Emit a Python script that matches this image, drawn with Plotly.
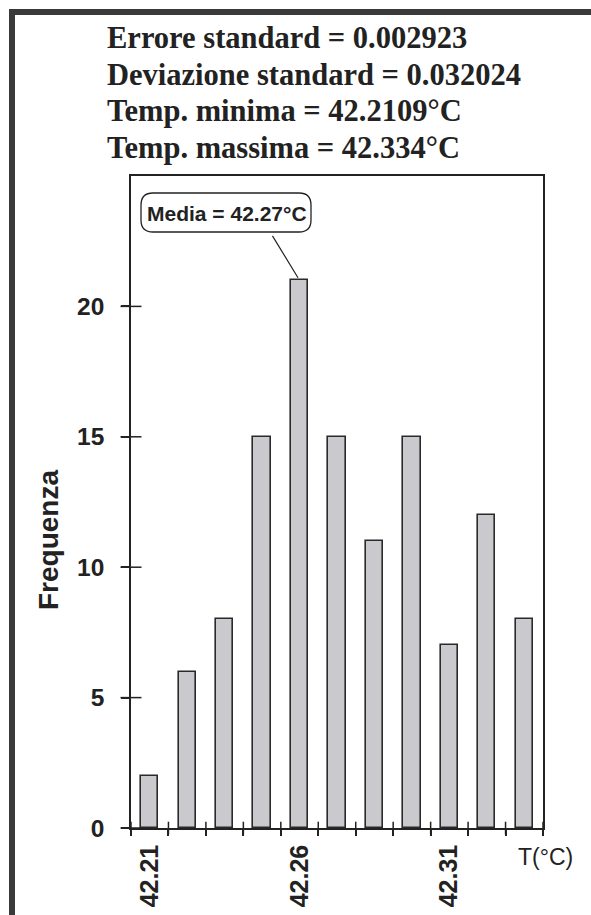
import plotly.graph_objects as go

# Histogram of measured temperatures
bin_centers = [42.21, 42.2225, 42.235, 42.2475, 42.26, 42.2725,
               42.285, 42.2975, 42.31, 42.3225, 42.335]
frequencies = [2, 6, 8, 15, 21, 15, 11, 15, 7, 12, 8]
bin_width = 0.0125

x_tick_values = [42.21, 42.26, 42.31]
x_tick_labels = ["42.21", "42.26", "42.31"]
y_tick_values = [0, 5, 10, 15, 20]

stats_lines = [
    "Errore standard = 0.002923",
    "Deviazione standard = 0.032024",
    "Temp. minima = 42.2109°C",
    "Temp. massima = 42.334°C",
]
media_label = "Media = 42.27°C"
x_title = "T(°C)"
y_title = "Frequenza"

# bin edges (tick marks on the x axis)
bin_edges = [c - bin_width / 2 for c in bin_centers] + [bin_centers[-1] + bin_width / 2]
peak = max(frequencies)
peak_x = bin_centers[frequencies.index(peak)]

W, H = 591, 915
L, R, T, B = 131, 48, 176, 87
PW, PH = W - L - R, H - T - B


def px(xp):
    return (xp - L) / PW


def py(yp):
    return (H - B - yp) / PH


INK = "#222222"
SANS = "Arial, Liberation Sans, sans-serif"
SERIF = "Times New Roman, Liberation Serif, serif"

fig = go.Figure()
fig.add_trace(go.Bar(
    x=bin_centers, y=frequencies, width=bin_width * 0.46,
    marker=dict(color="#c9c9ce", line=dict(color="#2a2a2a", width=1.6)),
    hoverinfo="x+y", showlegend=False,
))
# inner halves of the crossing tick marks
fig.add_trace(go.Scatter(
    x=bin_edges, y=[0] * len(bin_edges), mode="markers", cliponaxis=False,
    marker=dict(symbol="line-ns", size=9, line=dict(color=INK, width=1.5)),
    hoverinfo="skip", showlegend=False,
))
fig.add_trace(go.Scatter(
    x=[bin_edges[0]] * len(y_tick_values), y=y_tick_values, mode="markers",
    cliponaxis=False,
    marker=dict(symbol="line-ew", size=15, line=dict(color=INK, width=1.5)),
    hoverinfo="skip", showlegend=False,
))

fig.update_layout(
    width=W, height=H,
    margin=dict(l=L, r=R, t=T, b=B, pad=0, autoexpand=False),
    paper_bgcolor="white", plot_bgcolor="white",
    bargap=0,
    xaxis=dict(
        range=[bin_edges[0], bin_edges[-1]], showgrid=False, zeroline=False,
        automargin=False,
        showline=True, linecolor=INK, linewidth=1.5, mirror=True,
        tickmode="array", tickvals=x_tick_values, ticktext=x_tick_labels,
        tickangle=-90, ticks="outside", ticklen=5, tickcolor="rgba(0,0,0,0)",
        ticklabelstandoff=0,
        tickfont=dict(family=SANS, size=25, color=INK, weight="bold"),
        minor=dict(tickmode="array", tickvals=bin_edges, ticks="outside",
                   ticklen=6, tickwidth=1.5, tickcolor=INK, showgrid=False),
    ),
    yaxis=dict(
        range=[0, 25], showgrid=False, zeroline=False, automargin=False,
        showline=True, linecolor=INK, linewidth=1.5, mirror=True,
        tickmode="array", tickvals=y_tick_values,
        ticks="outside", ticklen=8, tickwidth=1.5, tickcolor=INK,
        ticklabelstandoff=12,
        tickfont=dict(family=SANS, size=24.5, color=INK, weight="bold"),
    ),
)

annotations = []
for i, line in enumerate(stats_lines):
    annotations.append(dict(
        text=line, xref="paper", yref="paper", x=px(105), y=py(38 + 36.7 * i),
        xanchor="left", yanchor="middle", showarrow=False,
        font=dict(family=SERIF, size=30.5, color=INK, weight="bold"),
    ))
annotations += [
    dict(text=y_title, xref="paper", yref="paper", x=px(48), y=py(540),
         textangle=-90, showarrow=False, xanchor="center", yanchor="middle",
         font=dict(family=SANS, size=28, color=INK, weight="bold")),
    dict(text=x_title, xref="paper", yref="paper", x=px(545), y=py(857),
         showarrow=False, xanchor="center", yanchor="middle",
         font=dict(family=SANS, size=23, color=INK)),
    dict(text=media_label, xref="paper", yref="paper", x=px(227), y=py(213),
         showarrow=False, xanchor="center", yanchor="middle",
         font=dict(family=SANS, size=21, color=INK, weight="bold")),
    dict(text="", x=peak_x, y=peak, xref="x", yref="y", showarrow=True,
         arrowhead=0, arrowwidth=1.2, arrowcolor=INK, ax=-28, ay=-46,
         standoff=3),
]
fig.update_layout(annotations=annotations)


def rounded_box(x0, y0, x1, y1, r):
    a, b, c, d = px(x0), px(x1), py(y0), py(y1)
    rx, ry = r / PW, r / PH
    return (f"M {a + rx},{c} L {b - rx},{c} Q {b},{c} {b},{c - ry} "
            f"L {b},{d + ry} Q {b},{d} {b - rx},{d} L {a + rx},{d} "
            f"Q {a},{d} {a},{d + ry} L {a},{c - ry} Q {a},{c} {a + rx},{c} Z")


fig.add_shape(type="path", xref="paper", yref="paper",
              path=rounded_box(141, 193, 311, 232, 12),
              line=dict(color=INK, width=1.3), fillcolor="rgba(0,0,0,0)")
# heavy outer frame
fig.add_shape(type="rect", xref="paper", yref="paper",
              x0=px(12), x1=px(640), y0=py(12), y1=py(960),
              line=dict(color="#3a3a3a", width=6), layer="above")

fig.write_html("out.html")
